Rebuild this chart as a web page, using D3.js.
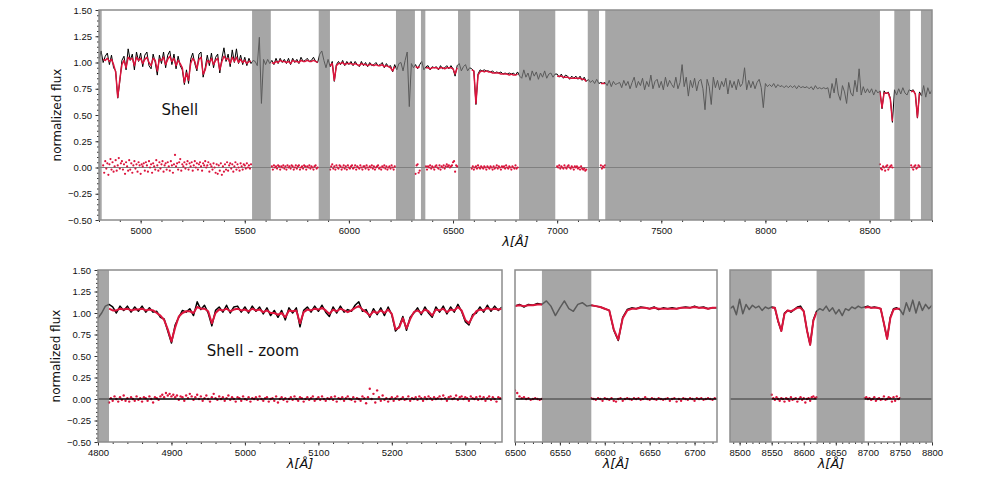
<!DOCTYPE html>
<html>
<head>
<meta charset="utf-8">
<title>Shell spectrum fit</title>
<script src="https://d3js.org/d3.v7.min.js"></script>
<style>
body { margin: 0; background: white; }
svg { font-family: "DejaVu Sans", sans-serif; }
.tick text { font-size: 9.5px; fill: #111; }
.tick line { stroke: #333; }
.domain { display: none; }
</style>
</head>
<body>
<div id="chart"></div>
<script>
// ---------- top panel: whole spectrum, 10 A sampling ----------
var topStart = 4800, topStep = 10;
var topFlux = [
  1.03,1.11,1.00,1.06,1.09,0.98,1.07,0.95,0.92,0.66,
  0.82,1.02,1.06,0.93,1.13,1.02,1.08,0.93,1.10,1.01,
  1.09,0.96,1.07,1.10,0.97,0.94,1.08,1.00,0.88,1.07,
  0.99,1.10,0.95,1.07,1.11,0.98,1.08,0.94,1.06,0.97,
  0.93,0.79,0.93,0.80,1.03,1.09,0.99,0.92,1.08,1.10,
  0.86,0.95,1.07,0.97,1.09,0.95,1.05,1.08,0.90,1.04,
  1.14,1.01,1.08,0.96,1.12,1.00,1.13,0.99,1.07,0.98,
  1.05,0.97,1.04,0.99,1.02,1.01,0.97,1.24,0.61,1.03,
  0.98,1.03,0.99,1.02,0.98,1.04,0.99,1.04,1.00,1.03,
  0.99,1.04,0.98,1.04,1.00,1.03,0.99,1.05,1.01,1.02,
  1.04,1.01,1.02,1.05,1.01,1.00,1.08,1.11,1.02,0.95,
  1.03,0.96,1.01,0.82,0.98,1.01,0.98,1.02,0.97,1.01,
  0.98,1.01,0.97,1.01,0.98,0.96,1.01,0.97,1.00,0.96,
  1.00,0.97,0.98,1.00,0.97,0.98,1.00,0.95,0.99,0.96,
  0.97,0.91,0.98,0.93,0.99,1.00,0.92,1.02,1.10,0.58,
  0.99,0.95,0.98,0.94,0.98,1.01,0.93,0.96,0.97,0.93,
  0.96,0.95,0.96,0.93,0.97,0.94,0.95,0.97,0.94,0.97,
  0.94,0.87,0.97,0.99,0.92,0.96,0.98,0.92,0.95,0.94,
  0.92,0.60,0.89,0.93,0.92,0.93,0.92,0.92,0.91,0.92,
  0.90,0.91,0.90,0.91,0.89,0.90,0.89,0.90,0.89,0.90,
  0.88,0.91,0.87,0.85,0.93,0.86,0.90,0.83,0.92,0.87,
  0.91,0.84,0.90,0.86,0.92,0.85,0.89,0.90,0.86,0.89,
  0.89,0.86,0.89,0.85,0.88,0.87,0.84,0.87,0.85,0.87,
  0.84,0.87,0.83,0.86,0.82,0.84,0.81,0.83,0.80,0.84,
  0.80,0.81,0.80,0.81,0.78,0.83,0.77,0.82,0.79,0.80,
  0.81,0.76,0.83,0.78,0.82,0.75,0.81,0.86,0.76,0.82,
  0.78,0.85,0.74,0.82,0.77,0.88,0.75,0.82,0.84,0.76,
  0.82,0.74,0.86,0.77,0.83,0.79,0.76,0.86,0.75,0.81,
  0.98,0.77,0.86,0.68,0.83,0.76,0.85,0.73,0.82,0.84,
  0.75,0.55,0.84,0.77,0.60,0.86,0.76,0.83,0.74,0.82,
  0.77,0.85,0.70,0.83,0.76,0.82,0.74,0.84,0.77,0.80,
  0.95,0.74,0.83,0.76,0.82,0.75,0.81,0.84,0.76,0.57,
  0.80,0.77,0.79,0.77,0.80,0.76,0.79,0.77,0.78,0.76,
  0.78,0.76,0.78,0.76,0.78,0.75,0.78,0.76,0.77,0.76,
  0.77,0.75,0.77,0.74,0.78,0.75,0.76,0.75,0.76,0.75,
  0.76,0.66,0.80,0.71,0.85,0.70,0.64,0.78,0.72,0.61,
  0.81,0.71,0.68,0.83,0.72,0.94,0.69,0.77,0.71,0.75,
  0.71,0.75,0.69,0.74,0.71,0.73,0.56,0.73,0.70,0.72,
  0.66,0.43,0.74,0.69,0.75,0.70,0.76,0.71,0.69,0.74,
  0.73,0.74,0.70,0.47,0.72,0.68,0.78,0.67,0.76,0.70,
  0.74
];
var topMasks = [[4800,4813],[5535,5625],[5855,5909],[6226,6317],[6346,6367],[6524,6583],
                [6817,6991],[7147,7201],[7231,8550],[8619,8695],[8747,8800]];
// fitted windows: start wavelength of each model / residual chunk
var topGood = [4820, 5630, 5910, 6320, 6370, 6590, 7000, 7210, 8550, 8700];
var topModel = [
  [1.03,1.02,1.04,1.01,1.03,0.98,0.91,0.67,
   0.84,0.98,1.02,0.95,1.05,1.03,1.04,0.97,1.05,1.02,
   1.04,0.99,1.03,1.05,1.00,0.97,1.04,1.02,0.92,1.03,
   1.02,1.05,0.98,1.03,1.06,1.01,1.04,0.97,1.02,0.99,
   0.95,0.81,0.90,0.83,0.99,1.04,1.01,0.94,1.03,1.05,
   0.89,0.93,1.02,1.00,1.04,0.98,1.02,1.04,0.93,1.01,
   1.06,1.03,1.04,0.99,1.05,1.01,1.05,1.00,1.03,1.00,
   1.02,0.99,1.01,1.01],
  [1.00,0.99,1.01,1.00,1.02,1.01,1.01,1.00,1.01,0.99,1.02,1.01,1.01,1.00,1.02,1.01,1.01,
   1.02,1.01,1.01,1.02,1.01,1.00],
  [0.97,0.99,0.83,0.97,0.99,0.99,1.00,0.98,0.99,0.99,0.99,0.98,0.99,0.98,0.97,0.99,0.98,0.98,0.97,
   0.98,0.98,0.97,0.98,0.97,0.97,0.98,0.96,0.97,0.96,0.95,0.92,0.96],
  [0.96,0.95,0.96],
  [0.95,0.95,0.94,0.95,0.95,0.95,0.94,0.95,0.95,0.94,0.95,0.95,0.95,0.94,0.89,0.95],
  [0.93,0.92,0.61,0.88,0.91,0.92,0.91,0.92,0.91,0.91,0.90,0.90,0.90,0.90,0.89,0.89,0.89,0.89,
   0.88,0.89,0.88,0.88,0.89],
  [0.87,0.87,0.87,0.86,0.86,0.86,0.85,0.85,0.85,0.85,0.85,0.85,0.84,0.84,0.82],
  [0.80,0.80,0.80],
  [0.72,0.57,0.71,0.71,0.71,0.65,0.44],
  [0.72,0.73,0.70,0.48,0.71]
];
// residuals, 5 A sampling
var topResid = [
  [.02,-.05,.06,-.01,.04,-.07,.03,.08,-.02,.05,-.04,.01,.07,-.03,.02,.09,-.01,.04,.06,-.02,
   .03,-.06,.05,.01,-.03,.07,-.02,.04,-.05,.02,.06,-.01,.03,-.04,.05,.02,-.06,.03,.01,.04,
   -.03,.05,.02,-.04,.06,.00,.03,-.05,.04,.01,-.02,.07,.02,-.03,.05,-.01,.03,.06,-.04,.02,
   .04,-.02,.05,.01,-.03,.06,.02,-.05,.03,.12,.01,.04,-.02,.05,.08,-.03,.03,.01,.05,-.01,
   .03,.06,-.02,.04,.01,.05,-.03,.02,.06,.00,.04,-.02,.03,.05,.01,-.03,.04,.02,.06,.00,
   .02,.05,-.04,.03,.01,-.02,.04,.00,-.05,.03,-.06,.02,-.03,.04,-.07,.01,-.04,.03,-.02,.05,
   -.03,.02,.04,-.01,.03,-.04,.01,.05,-.02,.03,.00,-.03,.04,.01,-.02,.03,.02,-.01,.04,.00,
   .02,-.01,.03],
  [.01,-.02,.02,.00,.01,-.01,.02,.01,-.02,.01,.00,.02,-.01,.01,-.02,.02,.00,.01,-.01,.02,
   .01,-.02,.00,.02,-.01,.01,.02,-.02,.00,.01,-.01,.02,.01,-.02,.01,.00,.02,-.01,.01,.00,
   -.02,.01,.02,-.01,.00],
  [-.02,.01,.03,-.01,.01,-.02,.02,.00,-.01,.02,.01,-.02,.00,.02,-.01,.01,-.02,.02,.00,-.01,
   .01,.02,-.01,.00,.02,-.02,.01,.00,-.01,.02,.00,-.02,.01,.01,-.01,.02,.00,-.02,.01,.00,
   .02,-.01,.01,-.02,.00,.01,.02,-.01,.00,-.02,.01,.00,.02,-.01,.01,-.02,.00,.01,-.01,.02,
   .00,-.02,.01],
  [-.06,.02,.03,-.05,-.03],
  [.01,-.02,.01,.00,.02,-.01,.01,.00,-.02,.01,.02,.00,-.01,.02,-.02,.01,.00,.02,-.01,.01,
   .03,.01,.02,.00,.01,.02,.05,.06,-.04,.02,.01],
  [-.01,.01,-.02,.00,.01,-.01,.02,.00,-.01,.01,.00,-.01,.01,.00,-.02,.01,.00,-.01,.01,.00,
   -.02,.01,-.01,.00,.02,-.01,.01,.00,-.02,.01,.00,.01,-.01,.02,.00,-.01,.01,.00,-.02,.01,
   .00,-.01,.02,-.01,.00],
  [.01,.00,.02,-.01,.01,.00,-.01,.02,.00,-.01,.01,.02,.00,-.01,.01,.00,-.02,.01,.00,.01,
   -.01,.00,-.02,.01,-.01,-.02,-.01,-.03,-.02],
  [.02,-.01,.01,.00,.02],
  [.03,-.01,-.02,.01,.00,-.03,.01,.02,-.02,.00,.01,.02,.00],
  [.02,.00,-.02,.01,.02,-.01,.00,.02,.01]
];

// ---------- zoom 1: 4800-5350, 5 A sampling ----------
var blueStart = 4800, blueStep = 5;
var blueFlux = [
  0.94,1.00,1.08,1.10,1.07,1.00,1.08,1.03,1.08,1.01,
  1.07,1.02,1.08,1.01,1.06,1.01,1.02,0.95,0.93,0.79,
  0.65,0.86,0.95,1.03,1.01,1.05,0.97,1.13,1.04,1.09,
  1.00,0.85,1.03,1.07,1.01,1.09,1.00,1.07,1.08,1.01,
  1.07,1.00,1.08,1.02,1.07,0.99,1.06,0.97,1.03,0.95,
  1.03,0.92,1.06,1.00,1.06,0.84,1.03,1.07,1.01,1.08,
  1.02,1.09,1.01,0.96,1.07,1.00,1.08,1.01,1.04,1.02,
  1.09,1.13,1.02,1.04,0.95,1.05,0.98,1.06,0.97,1.07,
  0.98,0.79,0.84,0.96,0.80,0.95,1.00,1.06,0.98,1.07,
  1.00,0.95,1.07,1.01,1.08,0.99,1.07,1.01,1.10,1.02,
  0.90,0.86,0.98,1.00,1.07,1.01,1.09,1.02,1.08,1.03,
  1.07
];
var blueMasks = [[4800,4815]];
var blueGood = [4815];
var blueModel = [[
  1.05,1.03,1.03,1.05,1.04,1.05,1.03,
  1.04,1.04,1.05,1.03,1.04,1.03,1.00,0.97,0.92,0.81,
  0.67,0.83,0.96,1.00,1.02,1.02,1.00,1.07,1.05,1.05,
  1.02,0.88,1.00,1.04,1.03,1.05,1.02,1.04,1.05,1.03,
  1.04,1.02,1.05,1.03,1.04,1.01,1.03,1.00,1.00,0.98,
  1.00,0.95,1.03,1.02,1.03,0.88,1.01,1.04,1.03,1.05,
  1.04,1.06,1.03,0.99,1.04,1.02,1.05,1.03,1.01,1.03,
  1.06,1.08,1.04,1.01,0.97,1.02,1.00,1.03,1.00,1.04,
  0.99,0.81,0.83,0.94,0.82,0.93,1.01,1.03,1.00,1.04,
  1.02,0.97,1.04,1.03,1.05,1.01,1.04,1.03,1.07,1.03,
  0.92,0.88,0.96,1.02,1.04,1.03,1.06,1.04,1.05,1.04,
  1.05
]];
// residuals, 2.5 A sampling
var blueResid = [[
  -.04,.01,-.02,.03,.00,-.03,.02,-.01,.04,-.02,.01,-.03,.02,.00,-.02,.03,-.01,.01,-.03,.02,
  .01,-.02,.03,.00,-.04,.02,.01,-.01,.03,.05,.02,.07,.04,.06,.03,.05,.02,.04,-.01,.03,
  .02,-.02,.04,.01,.06,.03,-.01,.02,.05,.00,.03,-.02,.01,.04,.00,-.03,.02,.06,.01,-.01,
  .03,.00,.02,-.02,.01,.04,-.01,.02,.00,-.03,.02,.01,-.02,.03,.00,-.01,.02,-.03,.01,.00,
  .02,-.01,.03,.00,-.02,.01,.02,-.03,.00,.01,-.02,.03,-.04,.00,.02,-.01,.01,-.03,.00,.02,
  -.01,.03,.00,-.02,.02,.01,-.03,.00,.02,-.01,.01,.03,-.02,.00,.02,-.01,.03,.00,-.02,.01,
  .00,.02,-.01,.03,-.03,.01,.00,.02,-.02,.01,.03,.00,-.01,.02,-.03,.01,.00,-.02,.03,.01,
  -.05,.02,.12,.00,.06,-.04,.10,.02,-.02,.04,-.01,.01,-.03,.00,.02,-.02,.01,.03,-.01,.00,
  .02,-.01,.00,.03,-.02,.01,.00,.02,-.01,.03,.01,-.02,.02,.00,.03,.01,-.01,.02,.00,.01,
  .03,.00,.04,.01,-.02,.02,.03,.00,.01,.04,-.01,.02,.03,.00,.02,.01,-.02,.03,.01,.00,
  .02,-.01,.03,.00,.02,-.02,.01,.03,-.01,.02,.00,-.03,.02,.01,.00
]];

// ---------- zoom 2: 6500-6725 (H-alpha), 5 A sampling ----------
var haStart = 6500, haStep = 5;
var haFlux = [
  1.08,1.10,1.07,1.10,1.09,1.11,1.10,1.14,1.08,0.97,
  1.06,1.14,1.05,1.02,1.10,1.12,1.08,1.09,1.08,1.07,
  1.05,1.03,0.80,0.68,0.95,1.04,1.06,1.05,1.07,1.06,
  1.05,1.07,1.04,1.06,1.05,1.06,1.05,1.06,1.07,1.06,
  1.08,1.06,1.07,1.05,1.06,1.06
];
var haMasks = [[6530,6585]];
var haGood = [6500, 6585];
var haModel = [
  [1.08,1.09,1.08,1.09,1.09,1.10,1.10],
  [1.09,1.08,1.07,1.05,1.03,0.81,0.69,0.94,1.03,1.05,
   1.05,1.06,1.06,1.05,1.06,1.05,1.05,1.05,1.05,1.05,
   1.06,1.06,1.06,1.07,1.06,1.06,1.05,1.06,1.06]
];
var haResid = [
  [.10,.07,.03,.01,.02,.00,.01,-.01,.00,.01,.00,-.01,.00],
  [.01,.00,-.01,.01,.00,-.02,.01,.00,-.01,.01,-.02,-.03,.00,.01,-.02,.00,.01,.00,-.01,.01,
   .00,.01,-.01,.00,.02,.00,-.01,.01,.00,-.01,.01,.00,-.01,.00,.01,-.02,.00,.01,-.03,.00,
   -.02,.01,.00,-.01,.01,.00,-.02,.01,.00,.01,-.01,.00,.01,.00,-.01,.01,.00]
];

// ---------- zoom 3: 8485-8800 (Ca triplet), 5 A sampling ----------
var caStart = 8485, caStep = 5;
var caFlux = [
  1.05,1.08,0.98,1.16,0.99,1.10,1.04,1.09,1.06,1.08,
  1.03,1.07,1.05,1.07,1.06,0.90,0.79,1.00,1.03,1.01,
  1.04,1.07,1.08,1.02,0.80,0.63,0.92,1.02,1.05,1.03,
  1.08,1.02,1.06,0.99,1.04,0.97,1.05,1.03,1.07,1.05,
  1.08,1.06,1.07,1.08,1.06,1.07,1.06,1.05,0.88,0.70,
  0.95,1.05,1.06,1.04,0.98,1.12,1.02,1.15,1.00,1.13,
  1.03,1.10,1.05,1.09
];
var caMasks = [[8485,8550],[8620,8695],[8750,8800]];
var caGood = [8550, 8695];
var caModel = [
  [1.06,1.06,0.91,0.79,0.99,1.03,1.02,1.04,1.06,1.06,1.02,0.80,0.63,0.91,1.01],
  [1.06,1.07,1.06,1.06,1.06,1.05,0.88,0.70,0.94,1.04,1.05,1.05]
];
var caResid = [
  [.05,.01,-.01,.02,.00,-.02,.01,.00,-.03,.01,.00,-.02,.02,-.01,.00,.01,-.03,.00,.02,-.01,
   .01,-.04,.00,.01,-.02,.02,.03,.01,.02],
  [.01,.02,.00,.01,-.01,.00,.02,-.02,.00,.01,-.01,.00,.03,-.01,.00,.02,.01,-.03,.02,-.02,
   .03,.00,.01]
];

var yTicks = d3.range(-0.5, 1.501, 0.25);
var yMinor = d3.range(-0.5, 1.501, 0.05);

var svg = d3.select("#chart").append("svg").attr("width", 981).attr("height", 491);

function drawPanel(p) {
    var x = d3.scaleLinear().domain(p.xdom).range([p.left, p.right]);
    var y = d3.scaleLinear().domain([-0.5, 1.5]).range([p.bottom, p.top]);
    var g = svg.append("g");

    g.append("clipPath").attr("id", "clip-" + p.id).append("rect")
        .attr("x", p.left).attr("y", p.top)
        .attr("width", p.right - p.left).attr("height", p.bottom - p.top);
    var plot = g.append("g").attr("clip-path", "url(#clip-" + p.id + ")");

    var line = d3.line().x(function(d) { return x(d[0]); }).y(function(d) { return y(d[1]); });

    function zeroLine() {
        plot.append("line")
            .attr("x1", p.left).attr("x2", p.right)
            .attr("y1", y(0)).attr("y2", y(0))
            .attr("stroke", p.zeroColor).attr("stroke-width", p.zeroWidth);
    }

    if (!p.dotsOnTop) zeroLine();

    // residual dots
    p.resid.forEach(function(arr, k) {
        plot.append("g").selectAll("circle")
            .data(arr.map(function(v, i) { return [p.good[k] + i * p.residStep, v]; }))
            .enter().append("circle")
            .attr("cx", function(d) { return x(d[0]); })
            .attr("cy", function(d) { return y(d[1]); })
            .attr("r", p.dotR)
            .attr("fill", "crimson");
    });

    if (p.dotsOnTop) zeroLine();

    // observed spectrum
    plot.append("path")
        .datum(p.flux.map(function(f, i) { return [p.start + i * p.step, f]; }))
        .attr("d", line)
        .attr("fill", "none").attr("stroke", "black")
        .attr("stroke-width", p.obsWidth).attr("stroke-linejoin", "round");

    // model in fitted windows
    p.model.forEach(function(arr, k) {
        plot.append("path")
            .datum(arr.map(function(v, i) { return [p.good[k] + i * p.step, v]; }))
            .attr("d", line)
            .attr("fill", "none").attr("stroke", "crimson")
            .attr("stroke-width", p.modelWidth).attr("stroke-linejoin", "round");
    });

    // masked regions, drawn on top so the lines show through darker
    plot.selectAll("rect.mask").data(p.masks).enter().append("rect")
        .attr("class", "mask")
        .attr("x", function(d) { return x(d[0]); })
        .attr("width", function(d) { return x(d[1]) - x(d[0]); })
        .attr("y", p.top).attr("height", p.bottom - p.top)
        .attr("fill", "#808080").attr("fill-opacity", 0.7);

    // x axis
    g.append("g").attr("transform", "translate(0," + p.bottom + ")")
        .call(d3.axisBottom(x).tickValues(p.minorX).tickSize(2).tickFormat(""));
    g.append("g").attr("transform", "translate(0," + p.bottom + ")")
        .call(d3.axisBottom(x).tickValues(p.majorX).tickSize(3.5).tickPadding(3.5).tickFormat(d3.format("d")));

    if (p.yAxis) {
        g.append("g").attr("transform", "translate(" + p.left + ",0)")
            .call(d3.axisLeft(y).tickValues(yMinor).tickSize(2).tickFormat(""));
        g.append("g").attr("transform", "translate(" + p.left + ",0)")
            .call(d3.axisLeft(y).tickValues(yTicks).tickSize(3.5).tickPadding(3.5).tickFormat(d3.format(".2f")));
        g.append("text")
            .attr("transform", "translate(" + (p.left - 38) + "," + ((p.top + p.bottom) / 2) + ") rotate(-90)")
            .attr("text-anchor", "middle")
            .attr("font-size", "12px")
            .attr("fill", "#111")
            .text("normalized flux");
    }

    // frame
    g.append("rect")
        .attr("x", p.left).attr("y", p.top)
        .attr("width", p.right - p.left).attr("height", p.bottom - p.top)
        .attr("fill", "none").attr("stroke", "#8c8c8c").attr("stroke-width", 1.5);

    g.append("text")
        .attr("x", (p.left + p.right) / 2).attr("y", p.bottom + 26)
        .attr("text-anchor", "middle")
        .attr("font-size", "13px").attr("font-style", "italic")
        .attr("fill", "#111")
        .text("λ[Å]");

    if (p.label) {
        g.append("text")
            .attr("x", x(p.label[1])).attr("y", y(p.label[2]))
            .attr("font-size", "15px").attr("fill", "#111")
            .text(p.label[0]);
    }
}

drawPanel({
    id: "top", left: 99, right: 932, top: 10, bottom: 220, xdom: [4800, 8800],
    start: topStart, step: topStep, flux: topFlux, masks: topMasks,
    good: topGood, model: topModel, resid: topResid, residStep: 5,
    majorX: d3.range(5000, 8501, 500), minorX: d3.range(4800, 8801, 100),
    yAxis: true, zeroColor: "#808080", zeroWidth: 1, dotsOnTop: false,
    obsWidth: 1, modelWidth: 1.5, dotR: 1.1,
    label: ["Shell", 5100, 0.50]
});

drawPanel({
    id: "blue", left: 98, right: 502, top: 270, bottom: 442, xdom: [4800, 5350],
    start: blueStart, step: blueStep, flux: blueFlux, masks: blueMasks,
    good: blueGood, model: blueModel, resid: blueResid, residStep: 2.5,
    majorX: d3.range(4800, 5301, 100), minorX: d3.range(4800, 5350, 20),
    yAxis: true, zeroColor: "black", zeroWidth: 1.6, dotsOnTop: true,
    obsWidth: 1.5, modelWidth: 2, dotR: 1.2,
    label: ["Shell - zoom", 4948, 0.50]
});

drawPanel({
    id: "ha", left: 515, right: 717, top: 270, bottom: 442, xdom: [6500, 6725],
    start: haStart, step: haStep, flux: haFlux, masks: haMasks,
    good: haGood, model: haModel, resid: haResid, residStep: 2.5,
    majorX: d3.range(6500, 6701, 50), minorX: d3.range(6500, 6726, 10),
    yAxis: false, zeroColor: "black", zeroWidth: 1.6, dotsOnTop: true,
    obsWidth: 1.5, modelWidth: 2, dotR: 1.2
});

drawPanel({
    id: "ca", left: 730, right: 932, top: 270, bottom: 442, xdom: [8485, 8800],
    start: caStart, step: caStep, flux: caFlux, masks: caMasks,
    good: caGood, model: caModel, resid: caResid, residStep: 2.5,
    majorX: d3.range(8500, 8801, 50), minorX: d3.range(8490, 8801, 10),
    yAxis: false, zeroColor: "black", zeroWidth: 1.6, dotsOnTop: true,
    obsWidth: 1.5, modelWidth: 2, dotR: 1.2
});
</script>
</body>
</html>
